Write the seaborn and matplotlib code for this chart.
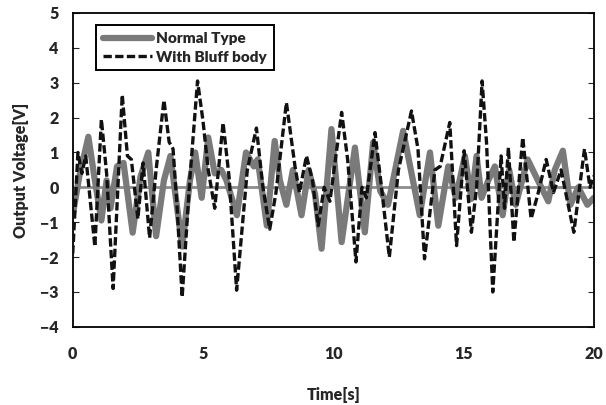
import numpy as np, pandas as pd
import matplotlib as mpl, matplotlib.pyplot as plt
import seaborn as sns

sns.set_style("white")
mpl.rcParams["font.family"] = ["Lato", "DejaVu Sans"]
mpl.rcParams["font.weight"] = "heavy"

# Normal Type (gray solid) — extrema
t_normal = [0.0, 0.25, 0.6, 0.85, 1.1, 1.3, 1.45, 1.7, 1.95, 2.3, 2.6, 2.9, 3.2, 3.5, 3.75,
            4.2, 4.5, 4.7, 4.95, 5.2, 5.45, 5.7, 5.9, 6.3, 6.65, 6.95, 7.1, 7.45, 7.75, 7.95,
            8.2, 8.45, 8.78, 9.05, 9.3, 9.55, 9.93, 10.32, 10.83, 11.21, 11.53, 11.8, 12.1,
            12.68, 13.32, 13.71, 14.03, 14.41, 14.7, 15.05, 15.3, 15.5, 15.69, 15.95, 16.2,
            16.5, 16.75, 17.0, 17.46, 17.85, 18.25, 18.5, 18.81, 19.1, 19.4, 19.75, 20.0]
v_normal = [-0.8, 0.3, 1.45, 0.2, -0.95, 0.2, -0.6, 0.6, 0.7, -1.3, 0.3, 1.0, -1.4, 0.2, 0.9,
            -1.7, 0.2, 1.0, -0.3, 1.43, 0.4, 0.5, 0.2, -0.8, 1.0, 0.6, 0.8, -1.1, 1.33, 0.2,
            -0.5, 0.5, -0.8, 0.5, -0.2, -1.76, 1.67, -1.57, 1.14, -1.29, 1.29, -0.1, -0.5,
            1.62, -0.8, 1.0, -1.1, 0.6, -0.3, 0.9, -0.33, 0.9, -0.3, 0.2, 0.6,
            -0.8, 0.5, -0.5, 0.8, 0.2, -0.4, 0.5, 1.05, -0.5, 0.0, -0.5, -0.3]

# With Bluff body (black dashed)
t_bluff = [0.0, 0.2, 0.35, 0.5, 0.85, 1.1, 1.3, 1.55, 1.9, 2.1, 2.25, 2.5, 2.7, 2.95, 3.2,
           3.5, 3.7, 3.85, 4.0, 4.2, 4.5, 4.79, 5.0, 5.2, 5.45, 5.77, 6.0, 6.29, 6.7, 7.05,
           7.3, 7.56, 7.8, 8.2, 8.53, 8.7, 8.97, 9.2, 9.42, 9.65, 9.87, 10.32, 10.55, 10.87,
           11.1, 11.27, 11.6, 11.85, 12.15, 12.5, 13.0, 13.25, 13.5, 13.9, 14.1, 14.47, 14.73,
           15.02, 15.3, 15.5, 15.71, 15.88, 16.12, 16.44, 16.57, 16.72, 16.93, 17.27, 17.59,
           17.85, 18.17, 18.45, 18.74, 19.23, 19.64, 19.85, 20.0]
v_bluff = [-1.9, 1.0, 0.4, 0.9, -1.7, 1.95, 0.4, -2.9, 2.65, 0.9, 0.8, -0.9, 0.7, -1.45, 0.5,
           2.5, 1.3, 1.1, -0.5, -3.15, 0.3, 3.05, 1.9, 0.5, -0.6, 1.85, 0.3, -2.95, 0.5, 1.7,
           0.0, -1.2, -0.15, 2.43, 0.6, -0.15, 0.9, 0.2, -1.1, 0.0, -0.4, 2.15, 0.8, -2.14,
           0.0, -0.3, 1.57, 0.0, -2.0, 0.5, 2.19, 1.1, -2.05, 0.5, 0.6, 1.86, -1.67,
           1.05, -1.29, 0.0, 3.05, 1.29, -3.0, 0.9, -0.6, 1.14, -1.57, 1.43, -0.9,
           -0.2, 0.8, -0.15, 0.5, -1.29, 1.1, 0.0, 0.33]

df = pd.concat([
    pd.DataFrame({"t": t_normal, "v": v_normal, "s": "Normal Type"}),
    pd.DataFrame({"t": t_bluff, "v": v_bluff, "s": "With Bluff body"}),
])

fig = plt.figure(figsize=(6.06, 4.05), dpi=100)
ax = fig.add_axes([0.12, 0.193, 0.86, 0.775])

ax.axhline(0, color="#8c8c8c", lw=2, zorder=1)
sns.lineplot(data=df[df.s == "Normal Type"], x="t", y="v", color="#7a7a7a", lw=4.5,
             label="Normal Type", ax=ax, zorder=2)
sns.lineplot(data=df[df.s == "With Bluff body"], x="t", y="v", color="#111111", lw=2.4,
             dashes=False, label="With Bluff body", ax=ax, zorder=3)
ax.lines[-1].set_linestyle((0, (2.5, 1.0)))

ax.set_xlim(0, 20); ax.set_ylim(-4, 5)
ax.set_xticks([0, 5, 10, 15, 20]); ax.set_yticks(range(-4, 6))
ax.tick_params(axis="x", length=0, pad=14, labelsize=11.5)
ax.tick_params(axis="y", direction="in", length=4, left=True, right=True, labelsize=11.5, pad=10)
for sp in ax.spines.values():
    sp.set_color("black"); sp.set_linewidth(1.3)
ax.set_xlabel("Time[s]", fontsize=11.5, fontweight="heavy", labelpad=18)
ax.set_ylabel("Output Voltage[V]", fontsize=11.5, fontweight="heavy", labelpad=8)

leg = ax.legend(loc="upper left", bbox_to_anchor=(0.03, 0.985), fancybox=False,
                framealpha=1, edgecolor="black", fontsize=11, handlelength=3.2,
                borderpad=0.45, labelspacing=0.35, handletextpad=0.3)
leg.get_frame().set_linewidth(1.4)
for txt in leg.get_texts():
    txt.set_fontweight("heavy")

fig.savefig("out.png", dpi=100)
